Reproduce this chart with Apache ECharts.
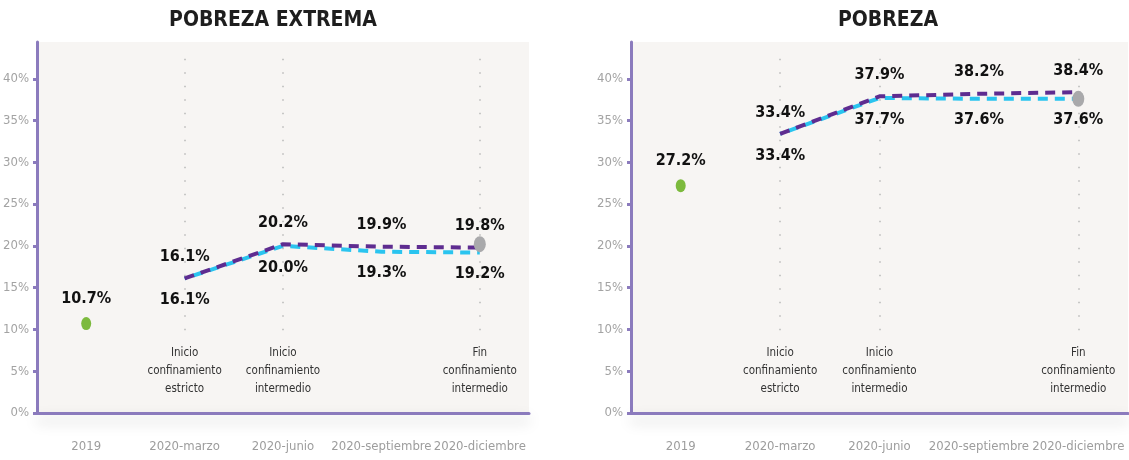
<!DOCTYPE html>
<html>
<head>
<meta charset="utf-8">
<script src="https://cdn.jsdelivr.net/npm/echarts@6/dist/echarts.min.js"></script>
<style>
  html, body { margin: 0; padding: 0; background: #ffffff; }
  #chart { width: 1129px; height: 460px; }
</style>
</head>
<body>
<div id="chart"></div>
<script>
// categorias del eje x
var categories = ["2019", "2020-marzo", "2020-junio", "2020-septiembre", "2020-diciembre"];

// POBREZA EXTREMA
var extremaBase = [10.7, "-", "-", "-", "-"];
var extremaPurple = ["-", 16.1, 20.2, 19.9, 19.8];
var extremaCyan = ["-", 16.1, 20.0, 19.3, 19.2];
var extremaEnd = ["-", "-", "-", "-", 20.2];

// POBREZA
var pobrezaBase = [27.2, "-", "-", "-", "-"];
var pobrezaPurple = ["-", 33.4, 37.9, 38.2, 38.4];
var pobrezaCyan = ["-", 33.4, 37.7, 37.6, 37.6];
var pobrezaEnd = ["-", "-", "-", "-", 37.6];

// notas de confinamiento
var notes = ["", "Inicio\nconfinamiento\nestricto", "Inicio\nconfinamiento\nintermedio", "", "Fin\nconfinamiento\nintermedio"];

var titles = ["POBREZA EXTREMA", "POBREZA"];

var narrow = "'DejaVu Sans Condensed', 'Liberation Sans', sans-serif";
var axisPurple = "#8b7bbd";

function pct(p) {
  return p.value.toFixed(1) + "%";
}

var valueLabel = {
  show: true,
  formatter: pct,
  fontFamily: narrow,
  fontWeight: "bold",
  fontSize: 16,
  color: "#111111",
};

function panelSeries(idx, base, purple, cyan, endPt) {
  var noteData = [];
  var lines = [];
  for (var i = 0; i < notes.length; i++) {
    if (notes[i]) {
      noteData.push({ value: [categories[i], 5], note: notes[i] });
      lines.push([{ coord: [categories[i], 42.4] }, { coord: [categories[i], 9.8] }]);
    }
  }
  return [
    {
      type: "scatter",
      xAxisIndex: idx,
      yAxisIndex: idx,
      symbolSize: 0,
      silent: true,
      z: 1,
      data: noteData,
      itemStyle: { opacity: 1 },
      label: {
        show: true,
        position: "inside",
        formatter: function (p) { return p.data.note; },
        fontFamily: narrow,
        fontSize: 11.5,
        lineHeight: 18,
        color: "#333333",
      },
      markLine: {
        silent: true,
        symbol: "none",
        label: { show: false },
        lineStyle: { color: "#b8b8b8", type: [1.5, 12], width: 1.5 },
        data: lines,
      },
    },
    {
      type: "line",
      xAxisIndex: idx,
      yAxisIndex: idx,
      data: cyan,
      symbol: "circle",
      symbolSize: 1,
      showSymbol: true,
      z: 3,
      itemStyle: { color: "rgba(0,0,0,0)" },
      lineStyle: { color: "#2ac4ef", width: 4, type: [10, 7], dashOffset: 8, cap: "butt" },
      label: Object.assign({ position: "bottom", distance: 13 }, valueLabel),
    },
    {
      type: "line",
      xAxisIndex: idx,
      yAxisIndex: idx,
      data: purple,
      symbol: "circle",
      symbolSize: 1,
      showSymbol: true,
      z: 4,
      itemStyle: { color: "rgba(0,0,0,0)" },
      lineStyle: { color: "#5e2c90", width: 4, type: [10, 7], cap: "butt" },
      label: Object.assign({ position: "top", distance: 13 }, valueLabel),
    },
    {
      type: "scatter",
      xAxisIndex: idx,
      yAxisIndex: idx,
      data: base,
      symbol: "circle",
      symbolSize: [10, 13],
      z: 5,
      itemStyle: { color: "#7cba3d", opacity: 1 },
      label: Object.assign({ position: "top", distance: 10 }, valueLabel),
    },
    {
      type: "scatter",
      xAxisIndex: idx,
      yAxisIndex: idx,
      data: endPt,
      symbol: "circle",
      symbolSize: [12, 16],
      z: 6,
      itemStyle: { color: "#a9a9ab", opacity: 1 },
    },
  ];
}

function xAxisFor(idx) {
  return {
    type: "category",
    gridIndex: idx,
    data: categories,
    boundaryGap: true,
    axisLine: {
      show: true,
      lineStyle: {
        color: axisPurple,
        width: 3,
        shadowColor: "rgba(0,0,0,0.22)",
        shadowBlur: 14,
        shadowOffsetY: 7,
      },
    },
    axisTick: { show: false },
    splitLine: { show: false },
    axisLabel: {
      interval: 0,
      margin: 27,
      fontFamily: narrow,
      fontSize: 13,
      color: "#9d9d9d",
    },
  };
}

function yAxisFor(idx) {
  return {
    type: "value",
    gridIndex: idx,
    min: 0,
    max: 44.4,
    interval: 5,
    axisLine: { show: true, lineStyle: { color: axisPurple, width: 3 } },
    axisTick: { show: true, length: 4, lineStyle: { color: axisPurple, width: 3 } },
    splitLine: { show: false },
    axisLabel: {
      margin: 8,
      showMaxLabel: false,
      fontFamily: narrow,
      fontSize: 13,
      color: "#a3a3a3",
      formatter: function (v) { return v % 5 === 0 ? v + "%" : ""; },
    },
  };
}

var myChart = echarts.init(document.getElementById("chart"));
var option = {
  backgroundColor: "#ffffff",
  animation: false,
  title: [
    {
      text: titles[0],
      left: 268,
      top: 5,
      textAlign: "center",
      textStyle: { fontFamily: narrow, fontWeight: "bold", fontSize: 21, color: "#1e1e1e" },
    },
    {
      text: titles[1],
      left: 883,
      top: 5,
      textAlign: "center",
      textStyle: { fontFamily: narrow, fontWeight: "bold", fontSize: 21, color: "#1e1e1e" },
    },
  ],
  grid: [
    { left: 30, top: 42, width: 499, height: 371, show: true, backgroundColor: "#f7f5f3", borderWidth: 0 },
    { left: 631, top: 42, width: 497, height: 371, show: true, backgroundColor: "#f7f5f3", borderWidth: 0 },
  ],
  xAxis: [xAxisFor(0), xAxisFor(1)],
  yAxis: [yAxisFor(0), yAxisFor(1)],
  series: panelSeries(0, extremaBase, extremaPurple, extremaCyan, extremaEnd)
    .concat(panelSeries(1, pobrezaBase, pobrezaPurple, pobrezaCyan, pobrezaEnd)),
};
myChart.setOption(option);
</script>
</body>
</html>
